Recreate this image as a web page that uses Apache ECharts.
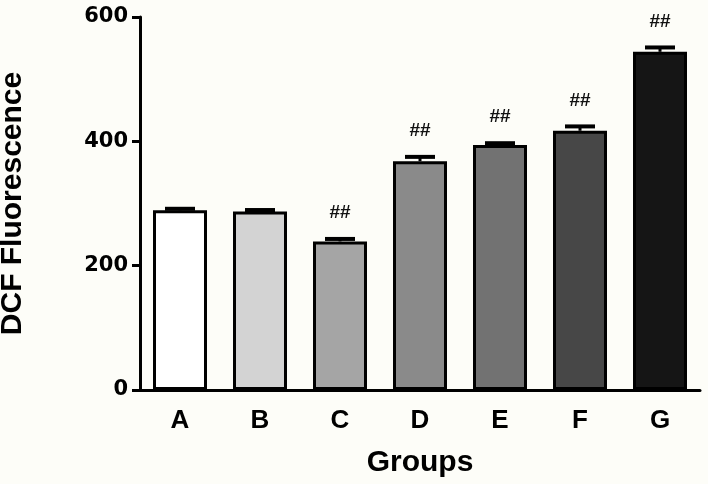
<!DOCTYPE html>
<html><head><meta charset="utf-8">
<script src="https://cdn.jsdelivr.net/npm/echarts@6/dist/echarts.min.js"></script>
<style>html,body{margin:0;padding:0;background:#fdfdf8}#c{width:708px;height:484px}</style>
</head><body><div id="c"></div>
<script>
const categories = ['A','B','C','D','E','F','G'];
const means = [289, 287, 239, 368, 394, 417, 544];
const errors = [2.5, 2.5, 4, 7, 3, 7, 7];
const marks = ['', '', '##', '##', '##', '##', '##'];
const barColors = ['#ffffff','#d3d3d3','#a5a5a5','#8a8a8a','#727272','#474747','#151515'];
const yTicks = [0, 200, 400, 600];

const chart = echarts.init(document.getElementById('c'));
const font = 'Liberation Sans, Arial, sans-serif';
chart.setOption({
  backgroundColor: '#fdfdf8',
  animation: false,
  grid: {left: 140, right: 8, top: 17, bottom: 94, containLabel: false, outerBoundsMode: 'none'},
  xAxis: {
    type: 'category', data: categories,
    name: 'Groups', nameLocation: 'middle', nameGap: 58,
    nameTextStyle: {fontFamily: font, fontWeight: 'bold', fontSize: 30, color: '#000'},
    axisLine: {lineStyle: {color: '#000', width: 3}},
    axisTick: {alignWithLabel: true, length: 8, lineStyle: {color: '#000', width: 3}},
    axisLabel: {margin: 18, fontFamily: font, fontWeight: 'bold', fontSize: 26, color: '#000'}
  },
  yAxis: {
    type: 'value', min: yTicks[0], max: yTicks[yTicks.length-1], interval: 200,
    name: 'DCF Fluorescence', nameLocation: 'middle', nameGap: 112, nameRotate: 90,
    nameTextStyle: {fontFamily: font, fontWeight: 'bold', fontSize: 30, color: '#000'},
    splitLine: {show: false},
    axisLine: {show: true, lineStyle: {color: '#000', width: 3}},
    axisTick: {show: true, length: 8, lineStyle: {color: '#000', width: 3}},
    axisLabel: {margin: 12, fontFamily: 'DejaVu Sans', fontWeight: 'bold', fontSize: 21, color: '#000'}
  },
  series: [
    {
      type: 'bar', barWidth: 54,
      data: means.map((v, i) => ({value: v, itemStyle: {color: barColors[i]}})),
      itemStyle: {borderColor: '#000', borderWidth: 3}
    },
    {
      type: 'custom', z: 5,
      data: means.map((v, i) => [i, v, errors[i]]),
      renderItem: function (params, api) {
        const i = params.dataIndex;
        const base = api.coord([api.value(0), api.value(1)]);
        const top = api.coord([api.value(0), api.value(1) + api.value(2)]);
        const half = 15;
        const children = [
          {type: 'line', shape: {x1: base[0], y1: base[1], x2: top[0], y2: top[1]}, style: {stroke: '#000', lineWidth: 3}},
          {type: 'line', shape: {x1: top[0]-half, y1: top[1], x2: top[0]+half, y2: top[1]}, style: {stroke: '#000', lineWidth: 4}}
        ];
        if (marks[i]) {
          children.push({type: 'text', style: {text: marks[i], x: top[0], y: top[1]-26, align: 'center', verticalAlign: 'middle', font: 'bold 19px ' + font, fill: '#111'}});
        }
        return {type: 'group', children: children};
      }
    }
  ]
});
</script></body></html>
